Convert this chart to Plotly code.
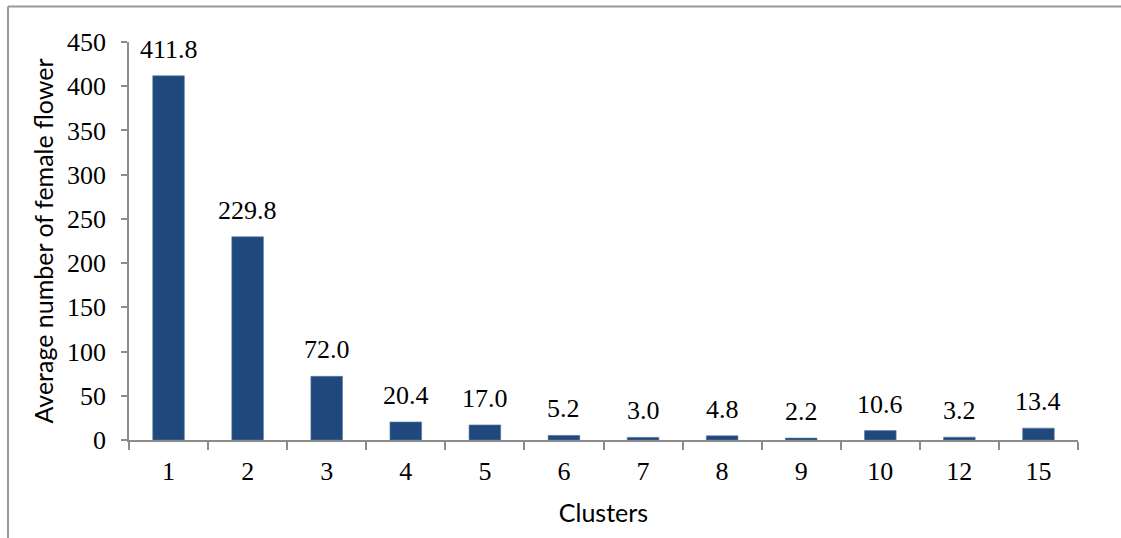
import plotly.graph_objects as go

clusters = ["1", "2", "3", "4", "5", "6", "7", "8", "9", "10", "12", "15"]
avg_female_flower = [411.8, 229.8, 72.0, 20.4, 17.0, 5.2, 3.0, 4.8, 2.2, 10.6, 3.2, 13.4]
y_ticks = [0, 50, 100, 150, 200, 250, 300, 350, 400, 450]

BAR = "#1F497D"
GRAY = "#8C8C8C"
SERIF = "Liberation Serif, Times New Roman, serif"
SANS = "Lato, Noto Sans, sans-serif"

fig = go.Figure()
fig.add_trace(go.Bar(
    x=clusters, y=avg_female_flower,
    marker=dict(color=BAR, line=dict(color="#5A7BA6", width=0.6)),
    hoverinfo="x+y",
))

for i, v in enumerate(avg_female_flower):
    fig.add_annotation(
        x=i, y=v, text=f"{v:.1f}", showarrow=False,
        yanchor="bottom", yshift=10,
        font=dict(family=SERIF, size=26, color="black"),
    )

L, R, T, B = 129, 43, 42, 98
W, H = 1121, 538
pw = W - L - R
ph = H - T - B

fig.update_layout(
    width=W, height=H,
    margin=dict(l=L, r=R, t=T, b=B),
    paper_bgcolor="white", plot_bgcolor="white",
    bargap=0.6, showlegend=False,
    xaxis=dict(
        type="category", tickson="boundaries", range=[-0.5, len(clusters) - 0.5],
        ticks="outside", ticklen=8, tickwidth=1.5, tickcolor=GRAY,
        showline=True, linecolor=GRAY, linewidth=1.5,
        showgrid=False, ticklabelstandoff=7,
        tickfont=dict(family=SERIF, size=26, color="black"),
        title=dict(text="Clusters", font=dict(family=SANS, size=25, color="black"), standoff=20),
    ),
    yaxis=dict(
        range=[0, 450], tickvals=y_ticks,
        ticks="outside", ticklen=6, tickwidth=1.5, tickcolor=GRAY,
        showline=True, linecolor=GRAY, linewidth=1.5,
        showgrid=False, zeroline=False, ticklabelstandoff=10,
        tickfont=dict(family=SERIF, size=26, color="black"),
        title=dict(text="Average number of female flower", font=dict(family=SANS, size=25, color="black"), standoff=6),
    ),
)

# outer chart frame (left and top edges)
x_left = (8 - L) / pw
y_top = (H - 6.5 - B) / ph
y_bot = (0 - B) / ph
x_right = (W - L) / pw
fig.add_shape(type="line", xref="paper", yref="paper", x0=x_left, x1=x_left, y0=y_bot, y1=y_top,
              line=dict(color="#999999", width=2))
fig.add_shape(type="line", xref="paper", yref="paper", x0=x_left, x1=x_right, y0=y_top, y1=y_top,
              line=dict(color="#999999", width=2))

fig.write_html("out.html")
